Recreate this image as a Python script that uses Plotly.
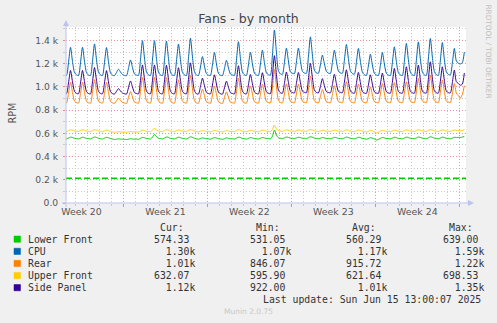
import pandas as pd
import plotly.graph_objects as go

# ---------------------------------------------------------------------------
# Fan speeds (RPM), one sample every 4 hours from 2025-05-14 02:00.
# Each row holds one day: 02:00, 06:00, 10:00, 14:00, 18:00, 22:00.
# ---------------------------------------------------------------------------
sample_times = pd.date_range("2025-05-14 02:00", periods=201, freq="4h")

cpu_rpm = [
    1105, 1100, 1210, 1342, 1220, 1125,   # May 14
    1105, 1098, 1208, 1342, 1222, 1124,   # May 15
    1102, 1100, 1222, 1371, 1236, 1128,   # May 16
    1104, 1100, 1210, 1340, 1218, 1122,   # May 17
    1102, 1098, 1125, 1153, 1130, 1108,   # May 18
    1100, 1097, 1160, 1233, 1168, 1112,   # May 19
    1102, 1100, 1235, 1399, 1250, 1130,   # May 20
    1104, 1100, 1232, 1399, 1248, 1128,   # May 21
    1103, 1099, 1230, 1395, 1246, 1128,   # May 22
    1102, 1100, 1220, 1370, 1236, 1126,   # May 23
    1104, 1100, 1245, 1420, 1260, 1132,   # May 24
    1103, 1099, 1172, 1262, 1180, 1115,   # May 25
    1102, 1100, 1188, 1297, 1198, 1118,   # May 26
    1101, 1098, 1158, 1230, 1165, 1112,   # May 27
    1103, 1100, 1230, 1390, 1245, 1128,   # May 28
    1104, 1100, 1190, 1300, 1200, 1120,   # May 29
    1103, 1100, 1198, 1318, 1210, 1122,   # May 30
    1105, 1102, 1275, 1491, 1300, 1140,   # May 31
    1112, 1110, 1210, 1335, 1225, 1130,   # Jun 1
    1118, 1115, 1215, 1335, 1228, 1135,   # Jun 2
    1120, 1118, 1260, 1432, 1275, 1145,   # Jun 3
    1122, 1118, 1190, 1275, 1200, 1135,   # Jun 4
    1120, 1116, 1212, 1318, 1222, 1138,   # Jun 5
    1122, 1118, 1230, 1366, 1245, 1140,   # Jun 6
    1115, 1110, 1210, 1332, 1222, 1128,   # Jun 7
    1105, 1100, 1180, 1283, 1190, 1118,   # Jun 8
    1103, 1099, 1185, 1297, 1198, 1118,   # Jun 9
    1102, 1100, 1208, 1346, 1220, 1124,   # Jun 10
    1103, 1100, 1222, 1375, 1236, 1128,   # Jun 11
    1104, 1100, 1228, 1389, 1243, 1130,   # Jun 12
    1104, 1101, 1242, 1418, 1258, 1134,   # Jun 13
    1105, 1101, 1226, 1383, 1240, 1130,   # Jun 14
    1108, 1104, 1205, 1332, 1225, 1205,   # Jun 15
    1198, 1210, 1300,                     # Jun 16
]

side_panel_rpm = [
    946, 942, 1035, 1143, 1045, 962,
    945, 941, 1033, 1143, 1046, 960,
    944, 940, 1045, 1167, 1058, 963,
    945, 941, 1034, 1141, 1044, 960,
    943, 939, 962, 986, 966, 948,
    942, 938, 994, 1052, 1000, 952,
    944, 940, 1055, 1190, 1070, 965,
    945, 941, 1054, 1190, 1068, 964,
    944, 940, 1052, 1187, 1066, 964,
    944, 940, 1044, 1166, 1057, 962,
    945, 941, 1064, 1208, 1078, 967,
    943, 939, 1003, 1076, 1012, 954,
    944, 940, 1017, 1105, 1026, 956,
    942, 938, 992, 1050, 998, 951,
    944, 940, 1050, 1183, 1064, 964,
    944, 940, 1018, 1108, 1028, 957,
    944, 940, 1025, 1123, 1035, 958,
    946, 942, 1092, 1270, 1108, 975,
    950, 946, 1030, 1129, 1040, 962,
    952, 948, 1030, 1125, 1040, 964,
    954, 950, 1068, 1203, 1080, 972,
    953, 949, 1003, 1072, 1012, 960,
    953, 949, 1020, 1110, 1030, 962,
    954, 950, 1040, 1148, 1050, 966,
    950, 946, 1028, 1126, 1038, 960,
    948, 944, 1015, 1105, 1025, 958,
    948, 945, 1022, 1120, 1032, 960,
    949, 946, 1040, 1160, 1050, 962,
    949, 946, 1045, 1174, 1056, 964,
    950, 946, 1052, 1189, 1064, 965,
    950, 947, 1065, 1217, 1078, 968,
    950, 947, 1046, 1174, 1058, 965,
    951, 948, 1036, 1146, 1046, 1030,
    1015, 1025, 1120,
]

rear_rpm = [
    866, 862, 945, 1041, 953, 878,
    865, 861, 944, 1041, 954, 877,
    864, 860, 953, 1063, 963, 879,
    865, 861, 944, 1040, 952, 877,
    863, 859, 881, 901, 884, 867,
    862, 858, 910, 960, 915, 870,
    864, 860, 962, 1083, 975, 880,
    865, 861, 961, 1083, 974, 880,
    864, 860, 960, 1080, 972, 880,
    864, 860, 952, 1062, 963, 878,
    865, 861, 970, 1099, 983, 882,
    863, 859, 920, 982, 927, 871,
    864, 860, 930, 1008, 938, 873,
    862, 858, 908, 958, 913, 869,
    864, 860, 958, 1077, 970, 880,
    864, 860, 932, 1010, 940, 873,
    864, 860, 937, 1023, 946, 875,
    866, 862, 990, 1150, 1005, 888,
    866, 862, 940, 1028, 950, 876,
    867, 863, 940, 1025, 948, 877,
    868, 864, 968, 1094, 980, 882,
    867, 863, 918, 978, 925, 872,
    867, 863, 933, 1012, 941, 875,
    868, 864, 948, 1046, 957, 878,
    866, 862, 938, 1026, 947, 876,
    866, 862, 926, 1002, 933, 874,
    867, 863, 938, 1030, 947, 876,
    868, 864, 942, 1038, 951, 877,
    868, 864, 945, 1045, 955, 878,
    869, 865, 958, 1074, 968, 880,
    869, 865, 970, 1102, 982, 883,
    869, 865, 952, 1060, 962, 879,
    870, 866, 940, 1030, 948, 925,
    905, 935, 1010,
]

upper_front_rpm = [
    618, 615, 624, 631, 627, 620,
    619, 616, 625, 630, 626, 620,
    618, 615, 623, 632, 628, 621,
    618, 614, 622, 628, 624, 618,
    613, 610, 612, 615, 613, 611,
    611, 609, 612, 616, 614, 612,
    613, 611, 620, 628, 624, 618,
    617, 614, 628, 642, 630, 620,
    618, 615, 624, 632, 628, 620,
    618, 615, 623, 630, 626, 619,
    618, 615, 625, 633, 628, 620,
    616, 613, 618, 624, 621, 617,
    616, 613, 620, 627, 623, 617,
    615, 612, 617, 624, 620, 616,
    617, 614, 623, 631, 627, 619,
    617, 614, 620, 627, 623, 618,
    617, 614, 621, 628, 624, 618,
    618, 616, 634, 672, 640, 624,
    620, 617, 624, 631, 627, 621,
    620, 617, 623, 629, 626, 620,
    620, 617, 626, 633, 629, 621,
    619, 616, 621, 627, 623, 618,
    619, 616, 622, 628, 625, 619,
    619, 616, 623, 630, 626, 620,
    618, 615, 622, 629, 625, 619,
    616, 612, 618, 625, 621, 614,
    605, 610, 620, 627, 623, 618,
    618, 615, 622, 629, 625, 619,
    618, 615, 623, 630, 626, 620,
    619, 616, 624, 631, 627, 621,
    619, 616, 625, 633, 628, 621,
    619, 616, 623, 630, 626, 620,
    619, 616, 622, 629, 626, 624,
    622, 625, 632.07,
]

lower_front_rpm = [
    556, 553, 560, 568, 564, 558,
    555, 552, 559, 567, 563, 557,
    555, 552, 560, 569, 565, 558,
    554, 551, 558, 566, 562, 556,
    551, 548, 550, 553, 551, 549,
    549, 547, 550, 554, 552, 550,
    551, 549, 557, 566, 562, 555,
    554, 551, 568, 590, 572, 558,
    555, 552, 560, 569, 565, 557,
    555, 552, 559, 567, 563, 557,
    555, 552, 561, 570, 566, 558,
    553, 550, 555, 561, 558, 554,
    553, 550, 557, 564, 560, 554,
    552, 549, 554, 561, 557, 553,
    554, 551, 559, 568, 564, 556,
    554, 551, 557, 564, 560, 555,
    554, 551, 558, 565, 561, 555,
    556, 553, 575, 629, 585, 562,
    558, 555, 561, 569, 565, 559,
    558, 555, 560, 567, 564, 558,
    558, 555, 563, 571, 567, 559,
    557, 554, 558, 565, 561, 556,
    557, 554, 559, 566, 563, 557,
    557, 554, 560, 568, 564, 558,
    556, 553, 559, 567, 563, 557,
    554, 550, 556, 563, 559, 552,
    543, 548, 557, 565, 561, 556,
    556, 553, 559, 567, 563, 557,
    556, 553, 560, 568, 564, 558,
    557, 554, 561, 569, 565, 559,
    557, 554, 562, 571, 566, 559,
    557, 554, 560, 568, 564, 558,
    557, 554, 559, 567, 564, 566,
    565, 568, 574.33,
]

# Lower limit for the lower front fan, drawn as a dashed rule
lower_front_limit = 213

series_names = ["Lower Front", "CPU", "Rear", "Upper Front", "Side Panel"]
series_colors = ["#00CC00", "#0066B3", "#FF8000", "#FFCC00", "#330099"]
series_values = [lower_front_rpm, cpu_rpm, rear_rpm, upper_front_rpm, side_panel_rpm]

# Summary columns of the legend table
cur_text = ["574.33 ", "  1.30k", "  1.01k", "632.07 ", "  1.12k"]
min_text = ["531.05 ", "  1.07k", "846.07 ", "595.90 ", "922.00 "]
avg_text = ["560.29 ", "  1.17k", "915.72 ", "621.64 ", "  1.01k"]
max_text = ["639.00 ", "  1.59k", "  1.22k", "698.53 ", "  1.35k"]
column_headers = ["Cur:", "Min:", "Avg:", "Max:"]

# Axes
x_range = ["2025-05-14 05:00", "2025-06-16 13:20"]
week_starts = ["2025-05-19", "2025-05-26", "2025-06-02", "2025-06-09", "2025-06-16"]
week_label_pos = ["2025-05-15 12:00", "2025-05-22 12:00", "2025-05-29 12:00",
                  "2025-06-05 12:00", "2025-06-12 12:00"]
week_labels = ["Week 20", "Week 21", "Week 22", "Week 23", "Week 24"]
y_ticks = [0, 200, 400, 600, 800, 1000, 1200, 1400]
y_tick_labels = ["0.0", "0.2 k", "0.4 k", "0.6 k", "0.8 k", "1.0 k", "1.2 k", "1.4 k"]
y_range = [0, 1517]

# Canvas geometry (pixels)
W, H = 497, 323
PL, PR, PT, PB = 66, 466, 27, 203


def px(x):
    return (x - PL) / (PR - PL)


def py(y):
    return (PB - y) / (PB - PT)


GRID_MINOR = "#c9c9c9"
GRID_MAJOR = "#e39a9a"
AXIS_COLOR = "#bcc2ee"
TEXT = "#555555"
SANS = "DejaVu Sans"
MONO = "DejaVu Sans Mono"

fig = go.Figure()

for name, color, vals in zip(series_names, series_colors, series_values):
    fig.add_trace(go.Scatter(
        x=sample_times, y=vals, name=name, mode="lines",
        line=dict(color=color, width=1, shape="spline", smoothing=0.7),
        showlegend=False, hoverinfo="skip",
    ))

fig.add_trace(go.Scatter(
    x=x_range, y=[lower_front_limit, lower_front_limit], mode="lines",
    line=dict(color="#00CC00", width=1.6, dash="6px,3px"),
    xaxis="x2", showlegend=False, hoverinfo="skip",
))

fig.update_layout(
    width=W, height=H,
    margin=dict(l=PL, r=W - PR, t=PT, b=H - PB, pad=0),
    paper_bgcolor="#f0f0f0", plot_bgcolor="#ffffff",
    showlegend=False,
    title=dict(text="Fans - by month", x=0.5, xref="container", xanchor="center",
               y=1 - 19 / H, yref="container", yanchor="middle",
               font=dict(family=SANS, size=12.5, color="#444444")),
    xaxis=dict(
        type="date", range=x_range,
        tickmode="array", tickvals=week_label_pos, ticktext=week_labels,
        ticks="", showgrid=False, zeroline=False, showline=False,
        tickfont=dict(family=SANS, size=9.4, color=TEXT),
        ticklabelstandoff=2,
        minor=dict(tickmode="linear", tick0="2025-05-14", dtick=86400000,
                   showgrid=True, gridcolor=GRID_MINOR, griddash="1px,2px",
                   gridwidth=1, ticks="outside", ticklen=2, tickcolor="#c8c8c8"),
    ),
    xaxis2=dict(
        type="date", range=x_range, overlaying="x", anchor="y", side="bottom",
        tickmode="array", tickvals=week_starts, showticklabels=False,
        showgrid=True, gridcolor=GRID_MAJOR, griddash="1px,2px", gridwidth=1,
        ticks="outside", ticklen=3, tickcolor="#e08a8a",
        zeroline=False, showline=False,
    ),
    yaxis=dict(
        range=y_range, tickmode="array", tickvals=y_ticks, ticktext=y_tick_labels,
        showgrid=True, gridcolor=GRID_MAJOR, griddash="1px,2px", gridwidth=1,
        zeroline=False, showline=False, ticks="outside", ticklen=2,
        tickcolor="#e08a8a",
        tickfont=dict(family=SANS, size=9.2, color=TEXT),
        ticklabelstandoff=3,
        minor=dict(tickmode="linear", tick0=0, dtick=100, showgrid=True,
                   gridcolor=GRID_MINOR, griddash="1px,2px", gridwidth=1,
                   ticks="outside", ticklen=2, tickcolor="#c8c8c8"),
    ),
)

shapes = []
# axis lines with arrow heads
shapes.append(dict(type="line", xref="paper", yref="paper",
                   x0=px(62), x1=px(469), y0=py(PB), y1=py(PB),
                   line=dict(color=AXIS_COLOR, width=1)))
shapes.append(dict(type="path", xref="paper", yref="paper",
                   path=f"M {px(468)} {py(PB - 3)} L {px(474)} {py(PB)} L {px(468)} {py(PB + 3)} Z",
                   fillcolor=AXIS_COLOR, line=dict(width=0)))
shapes.append(dict(type="line", xref="paper", yref="paper",
                   x0=px(PL), x1=px(PL), y0=py(207), y1=py(24),
                   line=dict(color=AXIS_COLOR, width=1)))
shapes.append(dict(type="path", xref="paper", yref="paper",
                   path=f"M {px(PL - 3)} {py(26)} L {px(PL)} {py(20)} L {px(PL + 3)} {py(26)} Z",
                   fillcolor=AXIS_COLOR, line=dict(width=0)))

annotations = []
# vertical unit label
annotations.append(dict(xref="paper", yref="paper", x=px(11.5), y=py(113),
                        text="RPM", showarrow=False, textangle=-90,
                        xanchor="center", yanchor="middle",
                        font=dict(family=SANS, size=9.6, color=TEXT)))

# legend table
row_y = [239.3, 251.5, 263.6, 275.7, 287.8]
value_cols = [152.3, 248.3, 344.3, 441.0]
header_y = 227.6
for hdr, cx in zip(column_headers, value_cols):
    annotations.append(dict(xref="paper", yref="paper", x=px(cx + 6), y=py(header_y),
                            text=hdr, showarrow=False, xanchor="left", yanchor="middle",
                            font=dict(family=MONO, size=9.8, color="#333333")))

for i, (name, color) in enumerate(zip(series_names, series_colors)):
    ry = row_y[i]
    shapes.append(dict(type="rect", xref="paper", yref="paper",
                       x0=px(14), x1=px(20.5), y0=py(ry + 3), y1=py(ry - 3.3),
                       fillcolor=color, line=dict(color=color, width=0.5)))
    annotations.append(dict(xref="paper", yref="paper", x=px(26), y=py(ry),
                            text=name.replace(" ", "\u00a0"), showarrow=False,
                            xanchor="left", yanchor="middle",
                            font=dict(family=MONO, size=9.8, color="#333333")))
    for col, cx in zip((cur_text, min_text, avg_text, max_text), value_cols):
        annotations.append(dict(xref="paper", yref="paper", x=px(cx), y=py(ry),
                                text=col[i].replace(" ", "\u00a0"), showarrow=False,
                                xanchor="left", yanchor="middle",
                                font=dict(family=MONO, size=9.8, color="#333333")))

annotations.append(dict(xref="paper", yref="paper", x=px(482.5), y=py(299.8),
                        text="Last\u00a0update:\u00a0Sun\u00a0Jun\u00a015\u00a013:00:07\u00a02025",
                        showarrow=False, xanchor="right", yanchor="middle",
                        font=dict(family=MONO, size=9.8, color="#333333")))
annotations.append(dict(xref="paper", yref="paper", x=px(248), y=py(311.8),
                        text="Munin 2.0.75", showarrow=False, xanchor="center",
                        yanchor="middle", font=dict(family=SANS, size=7.5, color="#c8c8c8")))
annotations.append(dict(xref="paper", yref="paper", x=px(488.5), y=py(52),
                        text="RRDTOOL / TOBI OETIKER", showarrow=False, textangle=90,
                        xanchor="center", yanchor="middle",
                        font=dict(family=SANS, size=7.3, color="#c0c0c0")))

fig.update_layout(shapes=shapes, annotations=annotations)

fig.write_html("out.html")
